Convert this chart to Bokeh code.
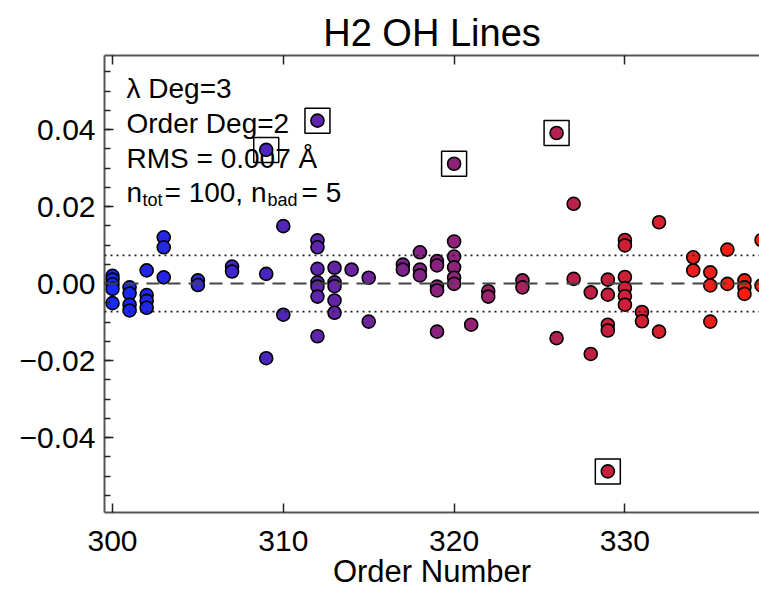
import numpy as np
from bokeh.plotting import figure
from bokeh.models import (Range1d, LinearAxis, FixedTicker, CustomJSTickFormatter,
                          Span, ColumnDataSource)
from bokeh.core.properties import value
from bokeh.embed import file_html
from bokeh.resources import INLINE

# ---------------- data ----------------
order = [300, 300, 300, 300, 300,
         301, 301, 301, 301,
         302, 302, 302, 302,
         303, 303, 303,
         305, 305,
         307, 307,
         309, 309,
         310, 310,
         312, 312, 312, 312, 312, 312, 312,
         313, 313, 313, 313, 313,
         314,
         315, 315,
         317, 317,
         318, 318, 318,
         319, 319, 319, 319, 319,
         320, 320, 320, 320, 320,
         321,
         322, 322,
         324, 324,
         326,
         327, 327,
         328, 328,
         329, 329, 329, 329,
         330, 330, 330, 330, 330, 330,
         331, 331,
         332, 332,
         334, 334,
         335, 335, 335,
         336, 336,
         337, 337, 337,
         338, 338]
resid = [0.0020, 0.0010, -0.0002, -0.0014, -0.0051,
         -0.0010, -0.0026, -0.0055, -0.0070,
         0.0034, -0.0030, -0.0045, -0.0063,
         0.0120, 0.0094, 0.0016,
         0.0008, -0.0004,
         0.0044, 0.0031,
         0.0025, -0.0194,
         0.0149, -0.0081,
         0.0112, 0.0094, 0.0038, 0.0003, -0.0008, -0.0034, -0.0137,
         0.0041, 0.0003, -0.0007, -0.0044, -0.0076,
         0.0036,
         0.0015, -0.0099,
         0.0049, 0.0036,
         0.0081, 0.0036, 0.0021,
         0.0058, 0.0047, -0.0008, -0.0018, -0.0125,
         0.0109, 0.0070, 0.0042, 0.0015, -0.0001,
         -0.0107,
         -0.0020, -0.0034,
         0.0008, -0.0010,
         -0.0142,
         0.0207, 0.0012,
         -0.0023, -0.0183,
         0.0010, -0.0029, -0.0107, -0.0122,
         0.0113, 0.0099, 0.0017, -0.0012, -0.0033, -0.0055,
         -0.0074, -0.0098,
         0.0159, -0.0125,
         0.0068, 0.0034,
         0.0029, -0.0005, -0.0099,
         0.0088, -0.0001,
         0.0008, -0.0010, -0.0027,
         0.0113, -0.0005]
bad_order = [309, 312, 320, 326, 329]
bad_resid = [0.0347, 0.0423, 0.0311, 0.0391, -0.0488]
rms = 0.0073
x_ticks = [300, 310, 320, 330]
y_ticks = [-0.04, -0.02, 0.0, 0.02, 0.04]

# ---------------- helpers ----------------
def colour(o):
    t = min(max((o - 300) / 38.0, 0.0), 1.0)
    r = int(20 + 235 * t)
    g = int(40 - 10 * t)
    b = int(250 - 245 * t)
    return "#%02x%02x%02x" % (r, g, b)

X0PX, PPX = 112.0, 17.08   # pixel of order 300, pixels per order
Y0PX, PPY = 283.0, 3850.0  # pixel of 0.0, pixels per unit
def px2x(px):
    return 300 + (px - X0PX) / PPX
def px2y(py):
    return (Y0PX - py) / PPY

FONT = "Liberation Sans"

p = figure(width=759, height=592, output_backend="svg", toolbar_location=None,
           title="H2 OH Lines",
           x_range=Range1d(px2x(104), px2x(759)), y_range=Range1d(px2y(512), px2y(55)),
           min_border_left=104, min_border_right=0, min_border_top=55, min_border_bottom=80,
           x_axis_location=None, y_axis_location=None)
p.outline_line_color = None
p.xgrid.visible = False
p.ygrid.visible = False
p.background_fill_color = "white"
p.border_fill_color = "white"

p.title.text_font = FONT
p.title.text_font_size = "38px"
p.title.text_font_style = "normal"
p.title.text_color = "black"
p.title.align = "center"
p.title.offset = 6
p.title.standoff = 4

fmt = CustomJSTickFormatter(code="""
    const v = Math.abs(tick) < 1e-9 ? 0 : tick;
    return (v < 0 ? '\u2212' : '') + Math.abs(v).toFixed(2);
""")
blank = CustomJSTickFormatter(code="return '';")

minor_y = [round(v, 3) for v in np.arange(-0.055, 0.0551, 0.005)]

def style_axis(ax):
    ax.axis_line_color = "#555555"
    ax.axis_line_width = 2
    ax.major_tick_in = 9
    ax.major_tick_out = 0
    ax.minor_tick_in = 6
    ax.minor_tick_out = 0
    ax.major_tick_line_color = "#222222"
    ax.minor_tick_line_color = "#222222"
    ax.major_tick_line_width = 1.5
    ax.minor_tick_line_width = 1.5
    ax.major_label_text_font = FONT
    ax.major_label_text_color = "black"
    ax.major_label_text_font_size = "30px"

left = LinearAxis(ticker=FixedTicker(ticks=y_ticks, minor_ticks=minor_y), formatter=fmt)
style_axis(left)
left.major_label_standoff = 9
p.add_layout(left, "left")

bottom = LinearAxis(ticker=FixedTicker(ticks=x_ticks), axis_label="Order Number")
style_axis(bottom)
bottom.major_label_standoff = 18
bottom.axis_label_text_font = FONT
bottom.axis_label_text_font_size = "31px"
bottom.axis_label_text_font_style = "normal"
bottom.axis_label_text_color = "black"
bottom.axis_label_standoff = 0
p.add_layout(bottom, "below")

top = LinearAxis(ticker=FixedTicker(ticks=x_ticks), formatter=blank)
style_axis(top)
top.major_label_standoff = 0
p.add_layout(top, "above")

# annotation text (drawn first so points sit on top)
p.text(x=[px2x(126)] * 3, y=[px2y(88), px2y(123), px2y(158)],
       text=["\u03bb Deg=3", "Order Deg=2", "RMS = 0.007 \u00c5"],
       text_font=value(FONT), text_font_size="28px", text_baseline="alphabetic",
       text_align="left", text_color="black")
p.text(x=[px2x(126), px2x(164), px2x(301)], y=[px2y(192)] * 3,
       text=["n", "= 100, n", "= 5"],
       text_font=value(FONT), text_font_size="28px", text_baseline="alphabetic",
       text_align="left", text_color="black")
p.text(x=[px2x(142), px2x(267)], y=[px2y(199)] * 2,
       text=["tot", "bad"],
       text_font=value(FONT), text_font_size="18px", text_baseline="alphabetic",
       text_align="left", text_color="black")

# points
all_o = order + bad_order
all_r = resid + bad_resid
src = ColumnDataSource(dict(x=all_o, y=all_r, c=[colour(o) for o in all_o]))
p.scatter("x", "y", source=src, marker="circle", size=13, fill_color="c",
          line_color="black", line_width=1.6)
p.scatter(bad_order, bad_resid, marker="square", size=25, fill_color=None,
          line_color="black", line_width=1.5)

# reference lines
p.add_layout(Span(location=0, dimension="width", line_color="#444444",
                  line_width=2, line_dash="13 8"))
for s in (rms, -rms):
    p.add_layout(Span(location=s, dimension="width", line_color="#222222",
                      line_width=1.6, line_dash="2 4"))

open("out.html", "w").write(file_html(p, INLINE))
